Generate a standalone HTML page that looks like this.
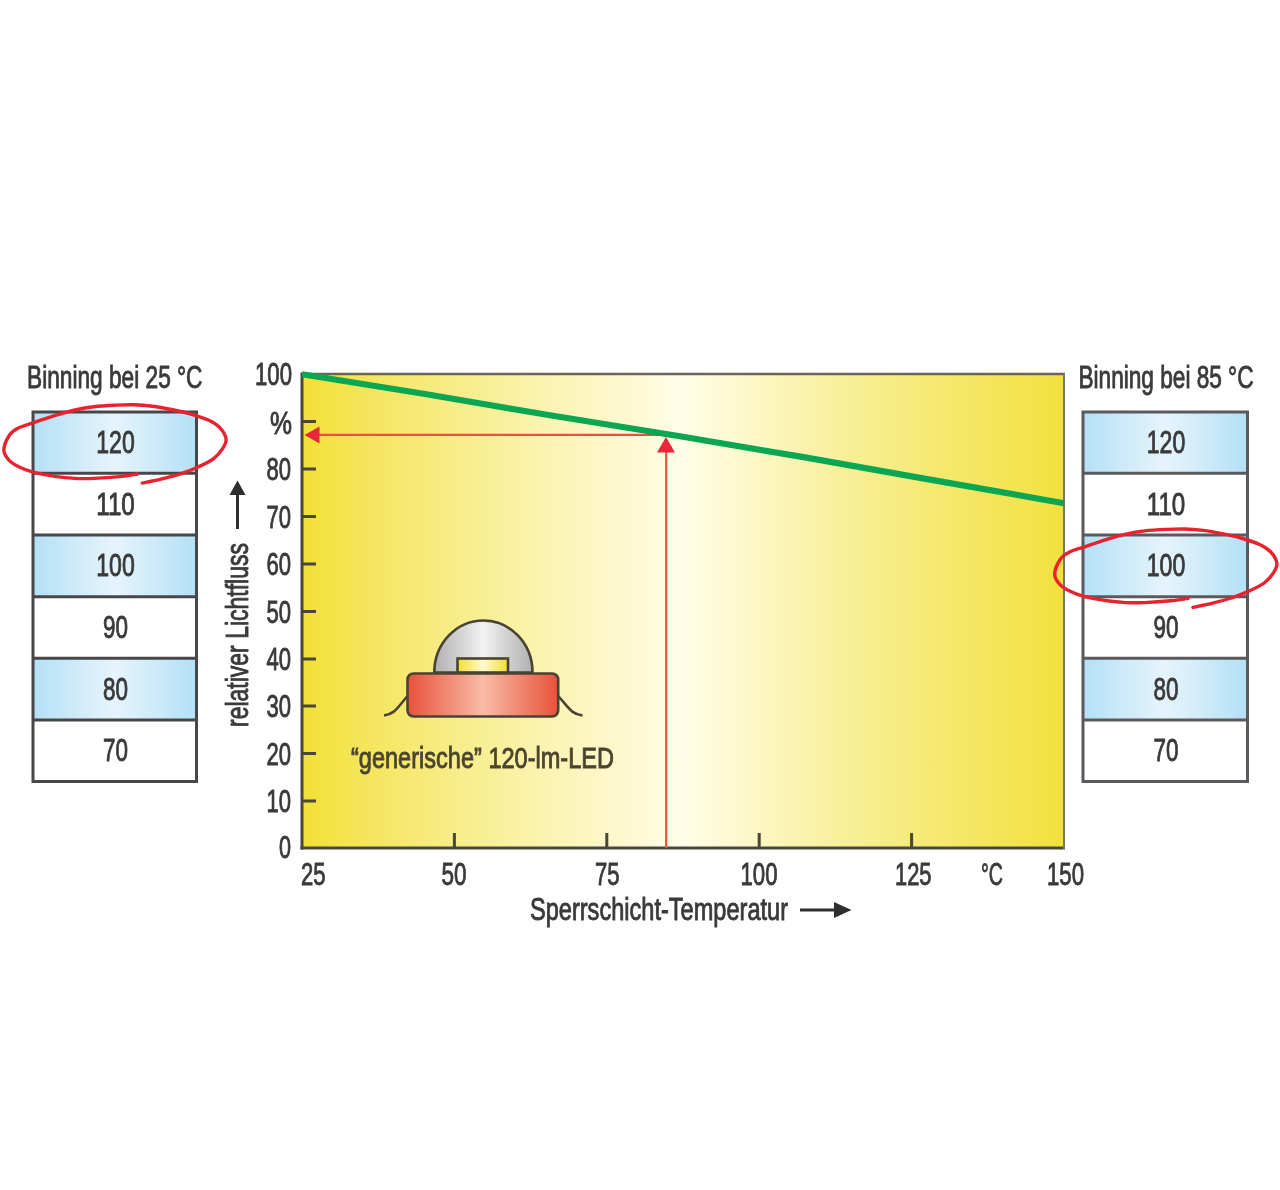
<!DOCTYPE html>
<html>
<head>
<meta charset="utf-8">
<title>Binning</title>
<style>
html,body{margin:0;padding:0;background:#fff;}
body{width:1280px;height:1190px;overflow:hidden;font-family:"Liberation Sans",sans-serif;}
svg{display:block;position:absolute;left:0;top:0;filter:blur(0.6px);}
text{font-family:"Liberation Sans",sans-serif;font-size:31px;fill:#3a3a3a;stroke:#3a3a3a;stroke-width:0.9px;}
.m{text-anchor:middle;}
.e{text-anchor:end;}
</style>
</head>
<body>
<svg width="1280" height="1190" viewBox="0 0 1280 1190">
<defs>
  <linearGradient id="gy" x1="0" y1="0" x2="1" y2="0">
    <stop offset="0" stop-color="#f2e036"/>
    <stop offset="0.08" stop-color="#f4e55a"/>
    <stop offset="0.16" stop-color="#f7ea7a"/>
    <stop offset="0.24" stop-color="#f9ef96"/>
    <stop offset="0.31" stop-color="#fbf3ae"/>
    <stop offset="0.39" stop-color="#fdf7c6"/>
    <stop offset="0.47" stop-color="#fefbde"/>
    <stop offset="0.5" stop-color="#fffde8"/>
    <stop offset="0.58" stop-color="#fdf8cc"/>
    <stop offset="0.66" stop-color="#faf2ac"/>
    <stop offset="0.735" stop-color="#f8ee92"/>
    <stop offset="0.81" stop-color="#f6ea78"/>
    <stop offset="0.89" stop-color="#f4e660"/>
    <stop offset="0.97" stop-color="#f3e248"/>
    <stop offset="1" stop-color="#f2e03e"/>
  </linearGradient>
  <linearGradient id="gb" x1="0" y1="0" x2="1" y2="0">
    <stop offset="0" stop-color="#b4e0f6"/>
    <stop offset="0.5" stop-color="#e6f4fc"/>
    <stop offset="1" stop-color="#b4e0f6"/>
  </linearGradient>
  <linearGradient id="gr" x1="0" y1="0" x2="1" y2="0">
    <stop offset="0" stop-color="#e8513a"/>
    <stop offset="0.5" stop-color="#f8bca6"/>
    <stop offset="1" stop-color="#e8513a"/>
  </linearGradient>
  <linearGradient id="gd" x1="0" y1="0" x2="1" y2="0">
    <stop offset="0" stop-color="#b0b0b0"/>
    <stop offset="0.5" stop-color="#f2f2f2"/>
    <stop offset="1" stop-color="#b0b0b0"/>
  </linearGradient>
  <linearGradient id="gc" x1="0" y1="0" x2="1" y2="0">
    <stop offset="0" stop-color="#f3de30"/>
    <stop offset="0.5" stop-color="#fffad0"/>
    <stop offset="1" stop-color="#f3de30"/>
  </linearGradient>
</defs>

<!-- plot background -->
<rect x="302" y="374" width="762" height="474" fill="url(#gy)"/>
<!-- plot frame -->
<g stroke="#4a463c" fill="none">
  <path d="M302,372.5 V849.5" stroke-width="3"/>
  <path d="M300.5,848 H1065" stroke-width="3"/>
  <path d="M302,374 H1065" stroke-width="2.5" stroke="#6a655a"/>
  <path d="M1064,373 V849" stroke-width="2" stroke="#7a766a"/>
  <!-- y ticks -->
  <g stroke-width="3">
    <path d="M302,421.5 h14 M302,469 h14 M302,516.5 h14 M302,564 h14 M302,611.5 h14 M302,659 h14 M302,706 h14 M302,753.5 h14 M302,801 h14"/>
    <path d="M454.4,848 v-15 M606.8,848 v-15 M759.2,848 v-15 M911.6,848 v-15"/>
  </g>
</g>

<!-- red guide lines -->
<g stroke="#e8503f" stroke-width="2.2" fill="none">
  <path d="M666.2,848 V450"/>
  <path d="M318,434.8 H666"/>
</g>
<g fill="#e8283a">
  <path d="M666,437 L675,452.5 L657,452.5 Z"/>
  <path d="M304.5,435 L319.5,426.5 L319.5,443.5 Z"/>
</g>

<!-- green line -->
<path d="M302,374.3 L425,394 L550,415.3 L680,436.3 L805,457.4 L930,479.6 L1064,503.2" stroke="#0ba651" stroke-width="6.2" fill="none" stroke-linecap="butt" stroke-linejoin="round"/>

<!-- LED -->
<g stroke="#4a4232" stroke-width="2.6">
  <path d="M434.3,672.5 A49.1,52 0 0 1 532.5,672.5 Z" fill="url(#gd)"/>
  <rect x="457.5" y="658.5" width="50.5" height="14" fill="url(#gc)"/>
  <path d="M407.5,696 C397,708 395,714 384,715.5" fill="none"/>
  <path d="M558.2,696 C569,708 571,714 582.5,715.5" fill="none"/>
  <rect x="407.5" y="673.5" width="150.7" height="43" rx="6" ry="6" fill="url(#gr)"/>
</g>
<text x="351" y="768" textLength="263" lengthAdjust="spacingAndGlyphs" style="fill:#4b4530;stroke:#4b4530;font-size:29.5px">“generische” 120-lm-LED</text>

<!-- y axis labels -->
<g class="e">
  <text x="292" y="385" textLength="37" lengthAdjust="spacingAndGlyphs">100</text>
  <text x="292" y="434" textLength="22" lengthAdjust="spacingAndGlyphs">%</text>
  <text x="291" y="480" textLength="24.5" lengthAdjust="spacingAndGlyphs">80</text>
  <text x="291" y="527.5" textLength="24.5" lengthAdjust="spacingAndGlyphs">70</text>
  <text x="291" y="575" textLength="24.5" lengthAdjust="spacingAndGlyphs">60</text>
  <text x="291" y="622.5" textLength="24.5" lengthAdjust="spacingAndGlyphs">50</text>
  <text x="291" y="670" textLength="24.5" lengthAdjust="spacingAndGlyphs">40</text>
  <text x="291" y="717" textLength="24.5" lengthAdjust="spacingAndGlyphs">30</text>
  <text x="291" y="764.5" textLength="24.5" lengthAdjust="spacingAndGlyphs">20</text>
  <text x="291" y="812" textLength="24.5" lengthAdjust="spacingAndGlyphs">10</text>
  <text x="291" y="858" textLength="12" lengthAdjust="spacingAndGlyphs">0</text>
</g>
<!-- x axis labels -->
<g>
  <text x="301" y="885" textLength="24.5" lengthAdjust="spacingAndGlyphs">25</text>
  <text x="441.5" y="885" textLength="25" lengthAdjust="spacingAndGlyphs">50</text>
  <text x="595" y="885" textLength="24.5" lengthAdjust="spacingAndGlyphs">75</text>
  <text x="740.5" y="885" textLength="37" lengthAdjust="spacingAndGlyphs">100</text>
  <text x="895" y="885" textLength="36.5" lengthAdjust="spacingAndGlyphs">125</text>
  <text x="981" y="885" textLength="22" lengthAdjust="spacingAndGlyphs">°C</text>
  <text x="1047" y="885" textLength="37" lengthAdjust="spacingAndGlyphs">150</text>
</g>
<text x="530" y="919.5" textLength="258" lengthAdjust="spacingAndGlyphs">Sperrschicht-Temperatur</text>
<g stroke="#2e2e2e" fill="#2e2e2e">
  <path d="M800,910 H838" stroke-width="3" fill="none"/>
  <path d="M851.5,910 L834,902 L834,918 Z" stroke="none"/>
</g>

<!-- y axis title -->
<text transform="translate(247.5,727) rotate(-90)" x="0" y="0" textLength="184" lengthAdjust="spacingAndGlyphs">relativer Lichtfluss</text>
<g stroke="#2e2e2e" fill="#2e2e2e">
  <path d="M237.5,529 V492" stroke-width="3" fill="none"/>
  <path d="M237.5,480.5 L229.5,495 L245.5,495 Z" stroke="none"/>
</g>

<!-- left table -->
<text x="27" y="387.5" textLength="175.5" lengthAdjust="spacingAndGlyphs">Binning bei 25 °C</text>
<g>
  <rect x="33" y="412" width="163" height="61.5" fill="url(#gb)"/>
  <rect x="33" y="535" width="163" height="62" fill="url(#gb)"/>
  <rect x="33" y="658" width="163" height="62" fill="url(#gb)"/>
  <g stroke="#47474a" stroke-width="3" fill="none">
    <rect x="33" y="412" width="163.5" height="369.5"/>
    <path d="M33,473.3 h163.5 M33,535 h163.5 M33,596.7 h163.5 M33,658.3 h163.5 M33,720 h163.5"/>
  </g>
  <g class="m">
    <text x="115.5" y="453" textLength="38.5" lengthAdjust="spacingAndGlyphs">120</text>
    <text x="115.5" y="514.5" textLength="38.5" lengthAdjust="spacingAndGlyphs">110</text>
    <text x="115.5" y="576" textLength="38.5" lengthAdjust="spacingAndGlyphs">100</text>
    <text x="115.5" y="638" textLength="25" lengthAdjust="spacingAndGlyphs">90</text>
    <text x="115.5" y="699.5" textLength="25" lengthAdjust="spacingAndGlyphs">80</text>
    <text x="115.5" y="761" textLength="25" lengthAdjust="spacingAndGlyphs">70</text>
  </g>
</g>
<path id="ell" d="M137.5,474.0 C134.6,474.4 127.3,475.9 120.0,476.6 C112.7,477.3 101.2,478.1 93.8,478.4 C86.2,478.7 81.2,478.7 75.0,478.4 C68.8,478.1 63.4,477.7 56.2,476.6 C49.1,475.5 38.5,473.5 32.3,471.9 C26.0,470.2 22.6,468.6 18.8,466.7 C14.9,464.8 11.9,463.3 9.4,460.6 C6.9,457.9 3.9,454.5 3.9,450.3 C3.9,446.1 6.9,439.1 9.4,435.3 C11.9,431.6 14.9,429.8 18.8,427.8 C22.6,425.8 26.0,425.2 32.3,423.1 C38.5,421.0 49.1,417.4 56.2,415.2 C63.4,413.0 68.8,411.4 75.0,410.0 C81.2,408.6 87.1,407.5 93.8,406.7 C100.4,405.9 108.3,405.5 115.0,405.2 C121.7,404.9 127.5,404.6 133.8,404.8 C140.0,405.0 146.2,405.5 152.5,406.2 C158.8,407.0 165.0,408.2 171.2,409.5 C177.5,410.8 183.8,411.9 190.0,413.8 C196.2,415.6 203.8,418.0 208.8,420.3 C213.8,422.6 217.1,424.7 220.0,427.8 C222.9,430.9 225.6,435.6 226.1,439.0 C226.6,442.4 224.9,445.1 222.8,448.4 C220.7,451.7 217.6,455.6 213.4,458.8 C209.2,461.9 203.0,464.7 197.5,467.2 C192.0,469.7 186.5,471.8 180.6,473.8 C174.7,475.7 168.3,477.3 161.9,478.9 C155.5,480.5 145.5,482.4 142.2,483.1" fill="none" stroke="#e6232e" stroke-width="3.4" stroke-linecap="round"/>

<!-- right table -->
<text x="1078.5" y="387.5" textLength="175" lengthAdjust="spacingAndGlyphs">Binning bei 85 °C</text>
<g>
  <rect x="1083" y="412" width="164" height="61.5" fill="url(#gb)"/>
  <rect x="1083" y="535" width="164" height="62" fill="url(#gb)"/>
  <rect x="1083" y="658" width="164" height="62" fill="url(#gb)"/>
  <g stroke="#5a5a5e" stroke-width="3" fill="none">
    <rect x="1083" y="412" width="164.5" height="369.5"/>
    <path d="M1083,473.3 h164.5 M1083,535 h164.5 M1083,596.7 h164.5 M1083,658.3 h164.5 M1083,720 h164.5"/>
  </g>
  <g class="m">
    <text x="1166" y="453" textLength="38.5" lengthAdjust="spacingAndGlyphs">120</text>
    <text x="1166" y="514.5" textLength="38.5" lengthAdjust="spacingAndGlyphs">110</text>
    <text x="1166" y="576" textLength="38.5" lengthAdjust="spacingAndGlyphs">100</text>
    <text x="1166" y="638" textLength="25" lengthAdjust="spacingAndGlyphs">90</text>
    <text x="1166" y="699.5" textLength="25" lengthAdjust="spacingAndGlyphs">80</text>
    <text x="1166" y="761" textLength="25" lengthAdjust="spacingAndGlyphs">70</text>
  </g>
</g>
<use href="#ell" transform="translate(1050.8,124.2)"/>
</svg>
</body>
</html>
